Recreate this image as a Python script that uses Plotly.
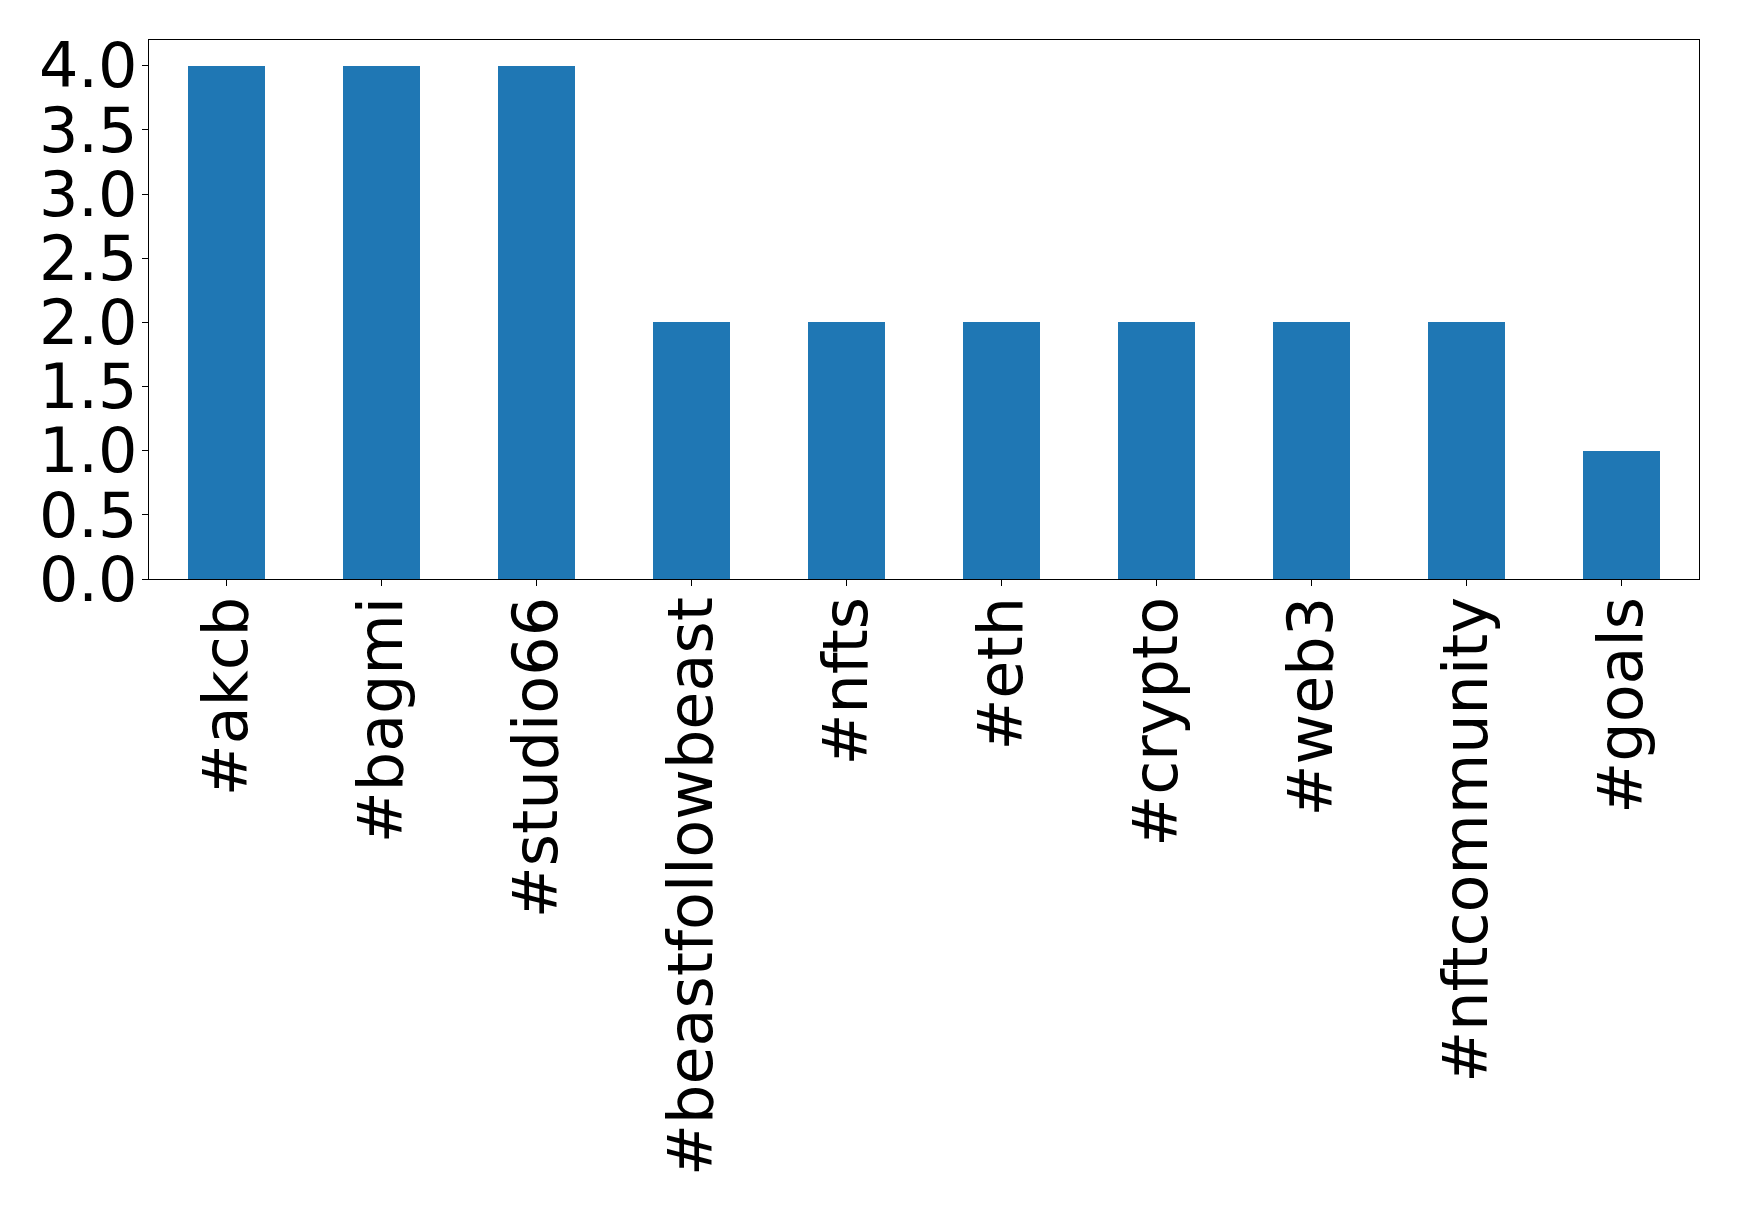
import plotly.graph_objects as go

categories = ["#akcb", "#bagmi", "#studio66", "#beastfollowbeast", "#nfts",
              "#eth", "#crypto", "#web3", "#nftcommunity", "#goals"]
counts = [4, 4, 4, 2, 2, 2, 2, 2, 2, 1]
y_ticks = [0.0, 0.5, 1.0, 1.5, 2.0, 2.5, 3.0, 3.5, 4.0]
y_tick_labels = ["0.0", "0.5", "1.0", "1.5", "2.0", "2.5", "3.0", "3.5", "4.0"]

fig = go.Figure(go.Bar(x=list(range(len(categories))), y=counts,
                       width=0.5, marker_color="#1f77b4", marker_line_width=0))

font = dict(family="DejaVu Sans", size=62, color="black")
# page body has an 8px default margin; compensate so the plot area lands at
# x 149..1699, y 40..579 in the 1739x1212 window
fig.update_layout(
    width=1723, height=1196,
    margin=dict(l=141, r=32, t=32, b=625, pad=0),
    paper_bgcolor="white", plot_bgcolor="white",
    showlegend=False,
    bargap=0,
)
fig.update_xaxes(
    range=[-0.5, len(categories) - 0.5],
    tickmode="array", tickvals=list(range(len(categories))), ticktext=categories,
    tickangle=-90, tickfont=font, automargin=False, ticklabelstandoff=-14,
    showline=True, linecolor="black", linewidth=1.2, mirror=True,
    ticks="outside", ticklen=6, tickwidth=1.2, tickcolor="black",
    showgrid=False, zeroline=False,
)
fig.update_yaxes(
    range=[0, 4.2],
    tickmode="array", tickvals=y_ticks, ticktext=y_tick_labels,
    tickfont=font, automargin=False, ticklabelstandoff=-8,
    showline=True, linecolor="black", linewidth=1.2, mirror=True,
    ticks="outside", ticklen=6, tickwidth=1.2, tickcolor="black",
    showgrid=False, zeroline=False,
)
fig.write_html("out.html")
